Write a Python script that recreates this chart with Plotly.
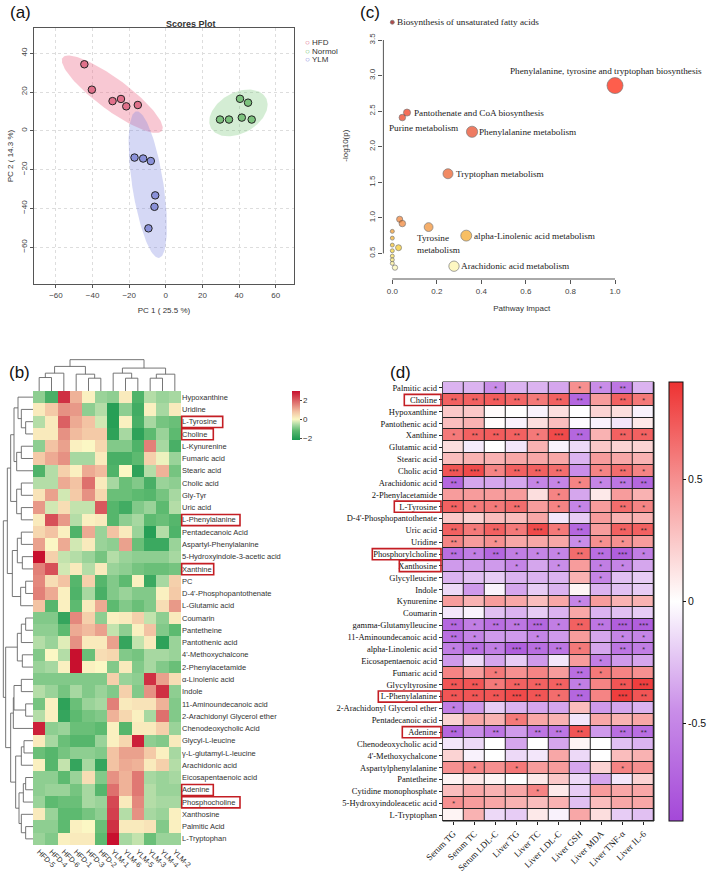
import numpy as np
import plotly.graph_objects as go

W, H = 709, 880


def px(x):
    return x / W


def py(y):
    return 1 - y / H


# ---------------- (a) PCA scores plot ----------------
hfd_pc1 = [-44.5, -40.4, -29.1, -24.5, -21.6, -15.3]
hfd_pc2 = [34.3, 21.2, 15.3, 16.4, 12.6, 13.3]
normol_pc1 = [29.6, 34.5, 40.5, 44.9, 41.5, 46.9]
normol_pc2 = [5.8, 5.8, 16.5, 14.5, 6.8, 5.8]
ylm_pc1 = [-17.1, -12.4, -8.2, -5.8, -6.2, -9.5]
ylm_pc2 = [-13.8, -14.3, -15.6, -33.3, -39.2, -50.3]

group_names = ["HFD", "Normol", "YLM"]
group_fill = ["rgba(236,110,140,0.38)", "rgba(120,200,120,0.32)", "rgba(125,135,225,0.32)"]
group_marker = ["#e0708a", "#7cc27d", "#8a91d9"]
group_legend = ["#e0607f", "#6cbf6c", "#7f86dc"]

# ---------------- (c) pathway impact ----------------
c_impact = [0.0, 1.0, 0.066, 0.045, 0.358, 0.25, 0.033, 0.045, 0.163, 0.332, 0.028, 0.277,
            0.0, 0.0, 0.0, 0.0, 0.0, 0.0, 0.0, 0.012]
c_logp = [3.75, 2.86, 2.48, 2.41, 2.21, 1.62, 0.98, 0.92, 0.87, 0.75, 0.58, 0.32,
          0.81, 0.715, 0.617, 0.537, 0.462, 0.41, 0.36, 0.30]
c_names = ["Biosynthesis of unsaturated fatty acids",
           "Phenylalanine, tyrosine and tryptophan biosynthesis",
           "Pantothenate and CoA biosynthesis",
           "Purine metabolism",
           "Phenylalanine metabolism",
           "Tryptophan metabolism",
           "", "",
           "Tyrosine<br>metabolism",
           "alpha-Linolenic acid metabolism",
           "",
           "Arachidonic acid metabolism",
           "", "", "", "", "", "", "", ""]
# label placement: xanchor, yanchor, xshift, yshift
c_place = {0: ("left", "middle", 3, 0), 1: ("center", "bottom", -9, 8),
           2: ("left", "middle", 5, 0), 3: ("left", "top", -15, -3),
           4: ("left", "middle", 5, 0), 5: ("left", "middle", 6, 0),
           8: ("left", "top", -14, -4), 9: ("left", "middle", 6, 0),
           11: ("left", "middle", 5, 0)}

# ---------------- (b) clustered heatmap ----------------
b_cols = ["HFD-5", "HFD-4", "HFD-6", "HFD-1", "HFD-3", "HFD-2",
          "YLM-1", "YLM-6", "YLM-5", "YLM-3", "YLM-4", "YLM-2"]
b_rows = ["Hypoxanthine", "Uridine", "L-Tyrosine", "Choline", "L-Kynurenine", "Fumaric acid",
          "Stearic acid", "Cholic acid", "Gly-Tyr", "Uric acid", "L-Phenylalanine",
          "Pentadecanoic Acid", "Aspartyl-Phenylalanine", "5-Hydroxyindole-3-acetic acid",
          "Xanthine", "PC", "D-4'-Phosphopantothenate", "L-Glutamic acid", "Coumarin",
          "Pantetheine", "Pantothenic acid", "4'-Methoxychalcone", "2-Phenylacetamide",
          "α-Linolenic acid", "Indole", "11-Aminoundecanoic acid", "2-Arachidonyl Glycerol ether",
          "Chenodeoxycholic Acid", "Glycyl-L-leucine", "γ-L-glutamyl-L-leucine",
          "Arachidonic acid", "Eicosapentaenoic acid", "Adenine", "Phosphocholine",
          "Xanthosine", "Palmitic Acid", "L-Tryptophan"]
b_z = [
    [-0.8, -1.5, 2.6, 1.0, 0.1, -0.7, -0.8, 0.2, -1.4, -0.5, -0.7, -0.6],
    [0.2, 0.7, 1.4, 1.3, -0.8, -0.5, -2.0, -0.8, -1.6, 0.1, -0.6, 0.2],
    [-0.5, 0.2, 2.0, 1.1, 0.8, -0.3, -2.0, 0.1, -1.5, -0.6, -1.0, -1.1],
    [0.2, 0.2, 1.4, 0.9, 0.7, 0.7, -1.9, -0.6, -1.9, -1.2, -0.7, -1.2],
    [-0.8, 0.8, 1.2, 0.1, 0.0, 0.5, -0.9, -0.9, -1.4, 1.6, -0.6, -1.5],
    [0.7, 1.1, 1.4, -0.6, -0.6, 0.2, -1.5, -1.5, -1.2, 0.6, -0.1, -0.7],
    [-1.4, -0.5, 0.6, 0.1, 1.1, 0.9, -1.4, 0.0, -1.9, -0.5, 1.0, -1.0],
    [-0.5, -0.5, 1.1, 0.8, 1.8, 0.2, -0.6, -1.1, -0.9, -1.5, -0.7, -0.8],
    [0.3, 1.2, -0.3, 0.7, 1.4, 0.5, -1.1, -1.1, -1.2, -1.3, -1.0, -0.6],
    [1.3, -0.3, 0.4, -0.4, -0.4, 2.1, -1.3, -1.6, -0.9, -0.7, -1.2, -0.5],
    [0.2, 2.2, 1.3, -0.5, 0.1, 0.2, -1.3, -0.8, -0.6, -1.2, -1.1, -1.3],
    [0.5, 0.8, 0.1, -1.4, 1.1, -0.7, 0.8, 0.2, -0.7, -2.0, -0.5, -1.4],
    [1.2, 0.0, 1.1, -0.3, 0.2, -0.7, -0.8, 1.2, -1.1, -1.7, -1.7, -0.7],
    [3.0, 0.6, -0.4, -0.5, -0.7, -1.0, -0.5, -0.7, -0.8, -0.8, -0.8, -0.6],
    [1.6, 2.2, -0.3, 0.2, -0.5, 0.2, -0.7, -0.8, -1.0, -1.1, -1.1, -1.0],
    [1.5, 0.4, 0.8, -1.3, 0.6, -1.3, -0.9, -1.2, 0.1, -1.7, -0.6, 0.6],
    [1.6, 1.1, 0.1, -1.4, -0.6, -1.5, -0.9, -0.7, -0.9, -0.9, 0.1, 0.7],
    [0.8, -1.3, 0.1, -1.2, 0.2, 1.1, -1.2, -0.9, -1.1, -0.9, 0.4, 1.3],
    [-0.9, -0.9, -1.8, 1.5, 0.6, -0.8, 0.1, 0.2, 0.6, -0.4, -0.8, 0.2],
    [-0.8, -0.8, -1.2, 1.1, 0.9, 1.2, -0.4, -0.8, 0.1, 0.8, -0.9, -1.2],
    [-0.5, -0.7, -0.2, 1.4, 0.2, 0.2, 1.2, -1.8, -0.4, 0.2, -1.9, -0.7],
    [-0.9, 0.0, -0.5, 3.0, -1.1, 0.4, 0.5, -0.9, -1.0, -0.6, -0.6, -0.7],
    [-0.7, -0.6, 0.1, 3.0, 0.1, 0.0, -0.9, 0.2, -0.9, -0.6, -0.9, -1.1],
    [-0.9, -0.9, -0.9, -0.9, -0.9, -0.9, 0.6, -0.7, -0.8, 2.6, 1.2, 0.4],
    [-0.5, -0.7, -1.0, -0.6, -0.9, -0.7, -0.9, 0.6, -0.9, 1.4, 2.6, -0.8],
    [-1.0, 0.1, -1.9, -1.1, -0.7, -0.6, 1.6, 0.2, 0.3, 0.3, 1.0, -0.9],
    [-0.5, 0.1, -1.8, -1.2, -1.0, -0.9, 1.0, 0.5, 0.1, -0.6, 1.8, -0.9],
    [2.8, -0.8, -0.7, -1.1, -1.1, -1.2, 0.1, -1.3, 0.2, 0.2, 0.6, -0.7],
    [0.2, -0.6, -1.1, -1.3, -1.3, -0.7, 0.1, 0.5, 2.8, -0.8, -0.9, 0.2],
    [-1.1, -1.3, -1.0, -0.8, -0.8, -0.9, 0.8, 1.2, 1.2, 0.7, 0.1, -0.6],
    [0.1, -1.3, -0.4, -1.8, -0.6, -1.8, 0.8, 1.1, 1.0, 0.2, 0.6, -0.5],
    [-0.8, -0.8, -1.2, -0.7, 0.4, -0.9, 1.4, 1.0, 1.7, -0.6, -0.7, -0.6],
    [-0.8, -0.7, -0.7, -1.0, -0.6, -1.3, 1.8, 1.0, 1.7, -0.5, -0.7, -0.7],
    [-0.7, -1.2, -1.1, -1.1, -0.6, -0.7, 2.3, 0.2, 1.5, -0.5, -0.6, -0.6],
    [0.2, -0.7, -1.2, -1.2, -1.0, -0.8, 2.4, -0.5, 1.4, -0.6, -0.7, 0.1],
    [-0.8, -0.8, -1.2, 0.1, 0.0, -1.1, 2.6, 0.2, 0.2, 0.3, -0.9, 0.1],
    [-0.7, -0.9, 0.1, 0.2, 0.2, -1.2, 3.0, -0.6, -0.4, -1.1, -0.7, -0.7],
]
# dendrograms: [left, right, height]
col_tree = [[[[0, 1, 40], 2, 53], [3, [4, 5, 38], 50], 73],
            [[6, [7, 8, 38], 53], [[9, 10, 38], 11, 50], 68], 93]
row_tree = [
    [[[[0, [1, [2, 3, 22], 35], 45], [[4, 5, 35], 6, 49], 57],
      [[7, 8, 35], [9, 10, 35], 49], 67],
     [[[11, 12, 35], [13, 14, 32], 47], [[15, 16, 22], 17, 37], 62], 77],
    [[[[18, 19, 22], 20, 35], [21, 22, 32], 47],
     [[[[23, 24, 35], [25, 26, 22], 57], 27, 59],
      [[[28, 29, 27], 30, 35], [[[31, 32, 22], 33, 29], [34, [35, 36, 22], 35], 42], 52], 67], 82],
    89]
b_boxed = {"L-Tyrosine": 41, "Choline": 31.6, "L-Phenylalanine": 58.3,
           "Xanthine": 32, "Adenine": 31.6, "Phosphocholine": 58.3}

# ---------------- (d) correlation heatmap ----------------
d_cols = ["Serum TG", "Serum TC", "Serum LDL-C", "Liver TG", "Liver TC", "Liver LDL-C",
          "Liver GSH", "Liver MDA", "Liver TNF-α", "Liver IL-6"]
d_rows = ["Palmitic acid", "Choline", "Hypoxanthine", "Pantothenic acid", "Xanthine",
          "Glutamic acid", "Stearic acid", "Cholic acid", "Arachidonic acid",
          "2-Phenylacetamide", "L-Tyrosine", "D-4'-Phosphopantothenate", "Uric acid", "Uridine",
          "Phosphorylcholine", "Xanthosine", "Glycylleucine", "Indole", "Kynurenine", "Coumarin",
          "gamma-Glutamylleucine", "11-Aminoundecanoic acid", "alpha-Linolenic acid",
          "Eicosapentaenoic acid", "Fumaric acid", "Glycyltyrosine", "L-Phenylalanine",
          "2-Arachidonyl Glycerol ether", "Pentadecanoic acid", "Adenine",
          "Chenodeoxycholic acid", "4'-Methoxychalcone", "Aspartylphenylalanine", "Pantetheine",
          "Cytidine monophosphate", "5-Hydroxyindoleacetic acid", "L-Tryptophan"]
d_z = [
    [-0.3, -0.3, -0.45, -0.3, -0.3, -0.35, 0.5, -0.45, -0.6, -0.3],
    [0.7, 0.7, 0.72, 0.68, 0.6, 0.7, -0.7, 0.45, 0.7, 0.6],
    [0.25, 0.25, 0.02, 0.0, -0.05, 0.15, 0.0, 0.2, 0.15, -0.05],
    [0.3, 0.35, 0.02, -0.05, 0.15, 0.3, -0.02, -0.05, -0.1, 0.1],
    [0.6, 0.7, 0.72, 0.7, 0.6, 0.8, -0.7, 0.35, 0.7, 0.7],
    [0.15, -0.08, 0.0, -0.1, 0.35, -0.05, -0.15, 0.25, 0.2, 0.2],
    [0.3, 0.35, 0.35, 0.4, 0.4, 0.4, -0.3, 0.45, 0.4, 0.35],
    [0.75, 0.8, 0.55, 0.7, 0.7, 0.65, -0.45, 0.55, 0.65, 0.55],
    [-0.7, -0.35, -0.35, -0.35, -0.5, -0.5, 0.55, -0.5, -0.6, -0.7],
    [0.45, 0.45, 0.45, 0.45, 0.15, 0.55, -0.35, 0.1, 0.45, 0.35],
    [0.7, 0.6, 0.6, 0.65, 0.45, 0.55, -0.5, 0.45, 0.65, 0.55],
    [0.25, 0.2, 0.3, 0.3, 0.4, -0.1, -0.2, 0.45, 0.35, 0.35],
    [0.7, 0.6, 0.7, 0.6, 0.8, 0.6, -0.7, 0.45, 0.7, 0.7],
    [0.55, 0.45, 0.5, 0.4, 0.4, 0.4, -0.45, 0.5, 0.5, 0.45],
    [-0.65, -0.55, -0.7, -0.55, -0.5, -0.5, 0.65, -0.65, -0.75, -0.55],
    [-0.4, -0.4, -0.4, -0.5, -0.35, -0.45, 0.45, -0.55, -0.5, -0.35],
    [-0.3, -0.25, -0.2, -0.3, -0.3, -0.3, 0.35, -0.5, -0.25, -0.2],
    [-0.15, -0.4, -0.05, -0.35, -0.2, -0.3, 0.05, -0.3, -0.25, -0.2],
    [0.45, 0.35, 0.45, 0.4, 0.3, 0.4, -0.5, 0.45, 0.35, 0.35],
    [-0.1, -0.05, -0.25, -0.3, -0.2, -0.3, 0.4, -0.3, -0.25, -0.2],
    [-0.7, -0.55, -0.65, -0.6, -0.7, -0.55, 0.7, -0.6, -0.75, -0.75],
    [-0.65, -0.5, -0.4, -0.4, -0.5, -0.4, 0.45, -0.35, -0.5, -0.5],
    [-0.55, -0.65, -0.55, -0.75, -0.65, -0.6, 0.6, -0.35, -0.6, -0.55],
    [-0.4, -0.15, -0.35, -0.2, -0.4, -0.1, 0.45, -0.55, -0.4, -0.35],
    [0.55, 0.45, 0.6, 0.5, 0.55, 0.45, -0.65, 0.6, 0.55, 0.5],
    [0.75, 0.75, 0.6, 0.7, 0.7, 0.7, -0.55, 0.55, 0.75, 0.85],
    [0.75, 0.75, 0.75, 0.8, 0.75, 0.65, -0.7, 0.55, 0.85, 0.75],
    [-0.55, -0.4, -0.2, -0.3, -0.35, -0.35, 0.3, -0.4, -0.35, -0.3],
    [0.2, 0.4, 0.35, 0.6, 0.4, 0.35, -0.1, 0.4, 0.35, 0.4],
    [-0.7, -0.45, -0.6, -0.4, -0.6, -0.6, 0.75, -0.4, -0.65, -0.65],
    [-0.1, -0.15, 0.0, -0.35, 0.0, -0.35, 0.05, 0.0, -0.25, -0.3],
    [0.2, -0.05, 0.0, -0.15, -0.1, 0.4, -0.15, 0.0, 0.3, 0.35],
    [0.5, 0.55, 0.5, 0.6, 0.45, 0.45, -0.35, 0.2, 0.55, 0.5],
    [0.05, 0.1, 0.05, 0.0, 0.1, 0.25, -0.15, -0.35, -0.1, 0.2],
    [0.3, 0.4, 0.35, 0.4, 0.55, 0.1, -0.2, 0.45, 0.4, 0.4],
    [0.5, 0.45, 0.4, 0.35, 0.3, 0.35, -0.25, 0.3, 0.4, 0.4],
    [0.05, 0.35, -0.15, -0.2, 0.1, -0.05, 0.4, 0.15, -0.2, -0.25],
]
d_stars = [
    ["", "", "*", "", "", "", "*", "*", "**", ""],
    ["**", "**", "**", "**", "*", "**", "**", "", "**", "*"],
    [""] * 10,
    [""] * 10,
    ["*", "**", "**", "**", "*", "***", "**", "", "**", "**"],
    [""] * 10,
    [""] * 10,
    ["***", "***", "*", "**", "**", "**", "", "*", "**", "*"],
    ["**", "", "", "", "*", "*", "*", "*", "**", "**"],
    ["", "", "", "", "", "*", "", "", "", ""],
    ["**", "*", "*", "**", "", "*", "*", "", "**", "*"],
    [""] * 10,
    ["**", "*", "**", "*", "***", "*", "**", "", "**", "**"],
    ["**", "", "*", "", "", "", "*", "*", "*", ""],
    ["**", "*", "**", "*", "*", "*", "**", "**", "***", "*"],
    ["", "", "", "*", "", "*", "", "*", "*", ""],
    ["", "", "", "", "", "", "", "*", "", ""],
    [""] * 10,
    ["", "", "", "", "", "", "*", "", "", ""],
    [""] * 10,
    ["**", "*", "**", "**", "***", "*", "**", "**", "***", "***"],
    ["**", "*", "", "", "*", "", "", "", "*", "*"],
    ["*", "**", "*", "***", "**", "**", "*", "", "**", "*"],
    ["", "", "", "", "", "", "", "*", "", ""],
    ["", "", "*", "", "", "", "**", "*", "", ""],
    ["**", "**", "*", "**", "**", "**", "*", "", "**", "***"],
    ["**", "**", "**", "***", "**", "*", "**", "", "***", "**"],
    ["*", "", "", "", "", "", "", "", "", ""],
    ["", "", "", "*", "", "", "", "", "", ""],
    ["**", "", "**", "", "**", "**", "**", "", "**", "**"],
    [""] * 10,
    [""] * 10,
    ["", "*", "", "*", "", "", "", "", "*", ""],
    [""] * 10,
    ["", "", "", "", "*", "", "", "", "", ""],
    ["*", "", "", "", "", "", "", "", "", ""],
    [""] * 10,
]
d_boxed = {"Choline": 404.3, "L-Tyrosine": 394.3, "Phosphorylcholine": 372.3,
           "Xanthosine": 399.3, "L-Phenylalanine": 378.3, "Adenine": 402.3}


def conf_ellipse(xs, ys, n=120):
    pts = np.column_stack([xs, ys])
    mu = pts.mean(axis=0)
    vals, vecs = np.linalg.eigh(np.cov(pts, rowvar=False))
    t = np.linspace(0, 2 * np.pi, n)
    circ = np.vstack([np.cos(t), np.sin(t)])
    ell = vecs @ (np.sqrt(5.991 * vals)[:, None] * circ)
    return mu[0] + ell[0], mu[1] + ell[1]


def dendro_lines(tree, horizontal):
    xs, ys = [], []

    def walk(node):
        if isinstance(node, int):
            return node, 0
        cl, hl = walk(node[0])
        cr, hr = walk(node[1])
        h = node[2]
        pos = [cl, cl, cr, cr]
        hts = [hl, h, h, hr]
        if horizontal:
            xs.extend(pos + [None]); ys.extend(hts + [None])
        else:
            xs.extend(hts + [None]); ys.extend(pos + [None])
        return (cl + cr) / 2, h

    walk(tree)
    return xs, ys


fig = go.Figure()
sans = "Liberation Sans, Arial, sans-serif"
serif = "Liberation Serif, Times New Roman, serif"

# ---- (a)
pcs = [(hfd_pc1, hfd_pc2), (normol_pc1, normol_pc2), (ylm_pc1, ylm_pc2)]
for (gx, gy), fc in zip(pcs, group_fill):
    ex, ey = conf_ellipse(gx, gy)
    fig.add_trace(go.Scatter(x=ex, y=ey, mode="lines", fill="toself", fillcolor=fc,
                             line=dict(width=0), hoverinfo="skip", showlegend=False,
                             xaxis="x", yaxis="y"))
for (gx, gy), mc, name in zip(pcs, group_marker, group_names):
    fig.add_trace(go.Scatter(x=gx, y=gy, mode="markers", name=name, showlegend=False,
                             marker=dict(size=7.5, color=mc, line=dict(color="#222", width=1)),
                             xaxis="x", yaxis="y"))

# ---- (c)
c_sizes = [4 + 12 * np.sqrt(v) for v in c_impact]
fig.add_trace(go.Scatter(
    x=c_impact, y=c_logp, mode="markers", showlegend=False, xaxis="x2", yaxis="y2",
    cliponaxis=False,
    marker=dict(size=c_sizes, color=c_logp, cmin=0.25, cmax=3.8, showscale=False,
                colorscale=[[0, "#ffffd2"], [0.08, "#f5d22a"], [0.14, "#f5a623"],
                            [0.19, "#f08030"], [0.38, "#ec5a22"], [0.55, "#e84420"],
                            [0.74, "#ff1a00"], [1, "#8b0000"]],
                line=dict(color="#444", width=0.7))))

# ---- (b)
fig.add_trace(go.Heatmap(
    z=b_z, x=list(range(len(b_cols))), y=list(range(len(b_rows))), xaxis="x3", yaxis="y3",
    zmin=-2.2, zmax=3.0,
    colorscale=[[0, "#1a9850"], [0.19, "#5cb96f"], [0.31, "#a8d9a2"], [0.423, "#fbf7c4"],
                [0.577, "#f3c3a3"], [0.73, "#e28078"], [1, "#c8102e"]],
    colorbar=dict(x=px(292), xanchor="left", y=py(415.5), yanchor="middle",
                  len=49 / H, thickness=8, xpad=0, ypad=0, outlinewidth=0,
                  tickvals=[-2, 0, 2], ticks="outside", ticklen=2, tickcolor="#444",
                  tickfont=dict(family=sans, size=8, color="#333"))))
tx, ty = dendro_lines(col_tree, True)
fig.add_trace(go.Scatter(x=tx, y=ty, mode="lines", line=dict(color="#666", width=0.9),
                         hoverinfo="skip", showlegend=False, xaxis="x4", yaxis="y4"))
lx, ly = dendro_lines(row_tree, False)
fig.add_trace(go.Scatter(x=lx, y=ly, mode="lines", line=dict(color="#666", width=0.9),
                         hoverinfo="skip", showlegend=False, xaxis="x5", yaxis="y5"))

# ---- (d)
fig.add_trace(go.Heatmap(
    z=d_z, x=list(range(len(d_cols))), y=list(range(len(d_rows))), xaxis="x6", yaxis="y6",
    zmin=-0.9, zmax=0.9, xgap=1, ygap=1,
    text=d_stars, texttemplate="%{text}", textfont=dict(size=6, color="#222"),
    colorscale=[[0, "#a448d8"], [0.25, "#c98de8"], [0.5, "#ffffff"],
                [0.75, "#f79c9c"], [1, "#ee3232"]],
    colorbar=dict(x=px(669), xanchor="left", y=py(601.5), yanchor="middle",
                  len=439 / H, thickness=14, xpad=0, ypad=0, outlinewidth=1,
                  outlinecolor="#111", tickvals=[-0.5, 0, 0.5], ticktext=["-0.5", "0", "0.5"],
                  ticks="outside", ticklen=3, tickcolor="#111",
                  tickfont=dict(family=sans, size=10.5, color="#111"))))

shapes = []
annotations = []

# axes for (a)
tick_a = dict(family=sans, size=8, color="#444")
fig.update_layout(
    xaxis=dict(domain=[px(34), px(294)], range=[-72, 70], tickvals=[-60, -40, -20, 0, 20, 40, 60],
               showgrid=True, gridcolor="#dddddd", griddash="dot", zeroline=False,
               showline=True, mirror=True, linecolor="#555", linewidth=1,
               ticks="outside", ticklen=3, tickcolor="#555", tickfont=tick_a,
               title=dict(text="PC 1 ( 25.5 %)", font=dict(family=sans, size=8, color="#333"),
                          standoff=8), anchor="y"),
    yaxis=dict(domain=[py(284), py(28)], range=[-79, 53], tickvals=[-60, -40, -20, 0, 20, 40],
               showgrid=True, gridcolor="#dddddd", griddash="dot", zeroline=False,
               showline=True, mirror=True, linecolor="#555", linewidth=1,
               ticks="outside", ticklen=3, tickcolor="#555", tickfont=tick_a, tickangle=-90,
               title=dict(text="PC 2 ( 14.3 %)", font=dict(family=sans, size=8, color="#333"),
                          standoff=4), anchor="x"),
)
annotations.append(dict(text="<b>Scores Plot</b>", x=px(164), y=py(17), xref="paper",
                        yref="paper", showarrow=False, font=dict(family=sans, size=9, color="#333")))
for i, (name, col) in enumerate(zip(group_names, group_legend)):
    annotations.append(dict(text=f"<span style='color:{col}'>○</span> {name}",
                            x=px(303), y=py(43 + 8.3 * i), xref="paper", yref="paper",
                            xanchor="left", yanchor="middle", showarrow=False,
                            font=dict(family=sans, size=8, color="#333")))

# axes for (c)
fig.update_layout(
    xaxis2=dict(domain=[px(383.4), px(660)], range=[-0.04, 1.202],
                tickvals=[0, 0.2, 0.4, 0.6, 0.8, 1.0], ticktext=["0.0", "0.2", "0.4", "0.6", "0.8", "1.0"],
                showgrid=False, zeroline=False, showline=False, ticks="outside", ticklen=4,
                tickcolor="#555", tickfont=tick_a, anchor="y2",
                title=dict(text="Pathway Impact", font=dict(family=sans, size=8, color="#333"),
                           standoff=10)),
    yaxis2=dict(domain=[py(279), py(12.3)], range=[0.14, 3.89],
                tickvals=[0.5, 1.0, 1.5, 2.0, 2.5, 3.0, 3.5],
                ticktext=["0.5", "1.0", "1.5", "2.0", "2.5", "3.0", "3.5"],
                showgrid=False, zeroline=False, showline=False, ticks="outside", ticklen=4,
                tickcolor="#555", tickfont=tick_a, tickangle=-90, anchor="x2",
                title=dict(text="-log10(p)", font=dict(family=sans, size=8, color="#333"),
                           standoff=18)),
)
shapes.append(dict(type="line", xref="x2", yref="y2 domain", x0=0, x1=1, y0=0, y1=0,
                   line=dict(color="#555", width=1)))
shapes.append(dict(type="line", xref="x2 domain", yref="y2", x0=0, x1=0, y0=0.5, y1=3.5,
                   line=dict(color="#555", width=1)))
for i, name in enumerate(c_names):
    if not name:
        continue
    xa, ya, xs, ys = c_place[i]
    annotations.append(dict(text=name, x=c_impact[i], y=c_logp[i], xref="x2", yref="y2",
                            xanchor=xa, yanchor=ya, xshift=xs, yshift=ys, align="left",
                            showarrow=False, font=dict(family=serif, size=9.2, color="#222")))

# axes for (b)
fig.update_layout(
    xaxis3=dict(domain=[px(33), px(181)], range=[-0.5, 11.5], tickvals=list(range(12)),
                ticktext=b_cols, tickangle=45, showgrid=False, zeroline=False, ticks="",
                tickfont=dict(family=sans, size=7.5, color="#333"), anchor="y3"),
    yaxis3=dict(domain=[py(845), py(391)], range=[36.5, -0.5], tickvals=list(range(37)),
                ticktext=b_rows, side="right", showgrid=False, zeroline=False, ticks="",
                tickfont=dict(family=sans, size=7.5, color="#333"), anchor="x3"),
    xaxis4=dict(domain=[px(33), px(181)], range=[-0.5, 11.5], visible=False, anchor="y4"),
    yaxis4=dict(domain=[py(391), py(359)], range=[0, 95], visible=False, anchor="x4"),
    xaxis5=dict(domain=[0, px(33)], range=[99, 0], visible=False, anchor="y5"),
    yaxis5=dict(domain=[py(845), py(391)], range=[36.5, -0.5], visible=False, anchor="x5"),
)
b_row_h = (845 - 391) / 37
for name, wdt in b_boxed.items():
    i = b_rows.index(name)
    shapes.append(dict(type="rect", xref="paper", yref="paper", x0=px(181.7), x1=px(181.7 + wdt),
                       y0=py(391 + i * b_row_h + 0.8), y1=py(391 + (i + 1) * b_row_h - 0.3),
                       line=dict(color="#c41e24", width=1.6)))

# axes for (d)
fig.update_layout(
    xaxis6=dict(domain=[px(442.7), px(654)], range=[-0.5, 9.5], tickvals=list(range(10)),
                ticktext=d_cols, tickangle=-45, showgrid=False, zeroline=False,
                ticks="outside", ticklen=3, tickcolor="#222",
                tickfont=dict(family=serif, size=9, color="#111"), anchor="y6"),
    yaxis6=dict(domain=[py(821), py(382)], range=[36.5, -0.5], tickvals=list(range(37)),
                ticktext=d_rows, showgrid=False, zeroline=False,
                ticks="outside", ticklen=3, tickcolor="#222",
                tickfont=dict(family=serif, size=8.5, color="#111"), anchor="x6"),
)
shapes.append(dict(type="rect", xref="x6 domain", yref="y6 domain", x0=0, x1=1, y0=0, y1=1,
                   fillcolor="#222", line=dict(color="#222", width=1), layer="below"))
d_row_h = (821 - 382) / 37
for name, x0 in d_boxed.items():
    i = d_rows.index(name)
    shapes.append(dict(type="rect", xref="paper", yref="paper", x0=px(x0), x1=px(441),
                       y0=py(382 + i * d_row_h + 0.5), y1=py(382 + (i + 1) * d_row_h - 0.2),
                       line=dict(color="#c41e24", width=1.6)))

# panel letters
for lab, lx_, ly_ in [("(a)", 8, 12), ("(c)", 358, 12), ("(b)", 7, 372), ("(d)", 388, 372)]:
    annotations.append(dict(text=lab, x=px(lx_), y=py(ly_), xref="paper", yref="paper",
                            xanchor="left", yanchor="middle", showarrow=False,
                            font=dict(family=sans, size=17, color="#111")))

fig.update_layout(template="none", width=W, height=H,
                  margin=dict(l=0, r=0, t=0, b=0, autoexpand=False),
                  paper_bgcolor="white", plot_bgcolor="white", showlegend=False,
                  shapes=shapes, annotations=annotations)

# the page body has a default 8px margin; drop it so the figure sits at the window origin
fig.write_html("out.html", config={"displayModeBar": False},
               post_script="document.body.style.margin='0px';")
